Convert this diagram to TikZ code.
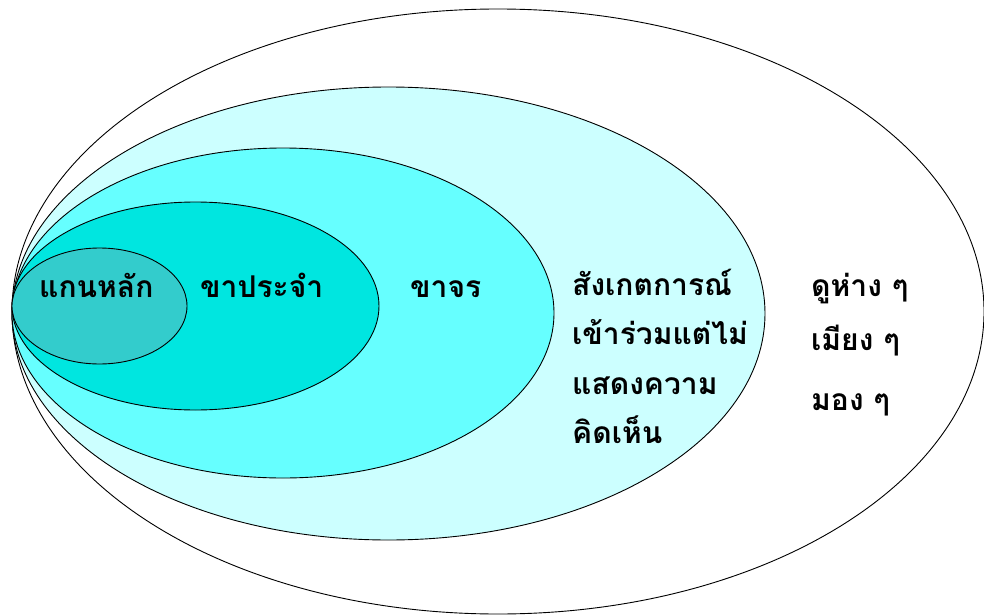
\documentclass[tikz,border=0pt]{standalone}
\usepackage{fontspec}
\newfontfamily\thaifont[Script=Thai]{Loma}
\usetikzlibrary{positioning}
\definecolor{ringfar}{HTML}{FFFFFF}
\definecolor{ringwatch}{HTML}{CCFFFF}
\definecolor{ringvisit}{HTML}{66FFFF}
\definecolor{ringregular}{HTML}{00E6E0}
\definecolor{ringcore}{HTML}{33CCCC}
\tikzset{
  ring/.style={draw=black, line width=0.9pt},
  lab/.style={font=\thaifont\bfseries\fontsize{30}{36}\selectfont, inner sep=0pt, anchor=base west},
}

\begin{document}
\begin{tikzpicture}[x=1pt, y=-1pt]
  \useasboundingbox (0,0) rectangle (984,615);
  % rings, outermost first, all touching at the left
  \filldraw[ring, fill=ringfar] (498,311.5) ellipse [x radius=486, y radius=302.5];
  \filldraw[ring, fill=ringwatch] (388.5,313.5) ellipse [x radius=376.5, y radius=226.5];
  \filldraw[ring, fill=ringvisit] (283,313) ellipse [x radius=271, y radius=165];
  \filldraw[ring, fill=ringregular] (195.5,306) ellipse [x radius=183.5, y radius=104];
  \filldraw[ring, fill=ringcore] (99.5,306) ellipse [x radius=87.5, y radius=58];
  % labels
  \node[lab] (core) at (39,297) {แกนหลัก};
  \node[lab] (regular) at (200,297) {ขาประจำ};
  \node[lab] (visit) at (410,297) {ขาจร};
  \node[lab] (watch1) at (572,295) {สังเกตการณ์};
  \node[lab] (watch2) at (572,344) {เข้าร่วมแต่ไม่};
  \node[lab] (watch3) at (572,394) {แสดงความ};
  \node[lab] (watch4) at (572,443) {คิดเห็น};
  \node[lab] (far1) at (811,296) {ดูห่าง ๆ};
  \node[lab] (far2) at (811,350) {เมียง ๆ};
  \node[lab] (far3) at (811,410) {มอง ๆ};
\end{tikzpicture}
\end{document}
